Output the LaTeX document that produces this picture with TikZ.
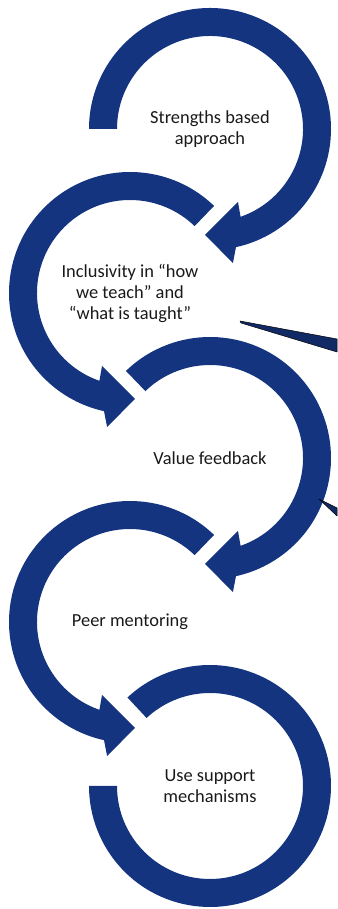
\documentclass[tikz,border=0pt]{standalone}
\usepackage{fontspec}
\setmainfont{Carlito}
\usepackage{tikz}
\definecolor{loopblue}{RGB}{21,52,128}
\tikzstyle{loopband} = [fill=loopblue, draw=none]
\tikzstyle{looptext} = [align=center, text=black!90, font=\fontsize{18.4}{21}\selectfont]
\tikzstyle{pointer} = [fill=loopblue!80!black, draw=black, line width=0.5pt, line join=round]

% clockwise loop with arrow head: #1 centre, #2 start angle
\newcommand{\cwloop}[2]{%
  \fill[loopband, shift={(#1)}] (#2:121pt) arc[start angle=#2, end angle=-77.6, radius=121pt]
    -- (-80.3:136pt) -- (-92.7:106pt) -- (-69:78pt) -- (-70.8:93pt)
    arc[start angle=-70.8, end angle=#2, radius=93pt] -- cycle;}
% counter-clockwise loop with arrow head: #1 centre, #2 start angle
\newcommand{\ccwloop}[2]{%
  \fill[loopband, shift={(#1)}] (#2:121pt) arc[start angle=#2, end angle=257.6, radius=121pt]
    -- (260.3:136pt) -- (272.7:106pt) -- (249:78pt) -- (250.8:93pt)
    arc[start angle=250.8, end angle=#2, radius=93pt] -- cycle;}

\begin{document}
\begin{tikzpicture}[x=1pt,y=1pt]
\useasboundingbox (0,0) rectangle (337,909);
\coordinate (c1) at (210,780);
\coordinate (c2) at (130,616);
\coordinate (c3) at (210,451);
\coordinate (c4) at (130,287);
\coordinate (c5) at (210,123);

% the loops
\cwloop{c1}{180}
\ccwloop{c2}{46}
\cwloop{c3}{134}
\ccwloop{c4}{46}
\fill[loopband, shift={(c5)}] (133:121pt) arc[start angle=133, end angle=-180, radius=121pt]
  -- (180:93pt) arc[start angle=-180, end angle=133, radius=93pt] -- cycle;

% cut-off pointers at the right edge
\filldraw[pointer] (240,588) -- (337,570) -- (337,557) -- (241,586) -- cycle;
\filldraw[pointer] (319,410) -- (337,401) -- (337,393) -- cycle;

% labels
\node[looptext] (strengths) at (c1) {Strengths based\\approach};
\node[looptext] (inclusivity) at (c2) {Inclusivity in “how\\we teach” and\\“what is taught”};
\node[looptext] (feedback) at (c3) {Value feedback};
\node[looptext] (mentoring) at (c4) {Peer mentoring};
\node[looptext] (support) at (c5) {Use support\\mechanisms};
\end{tikzpicture}
\end{document}
